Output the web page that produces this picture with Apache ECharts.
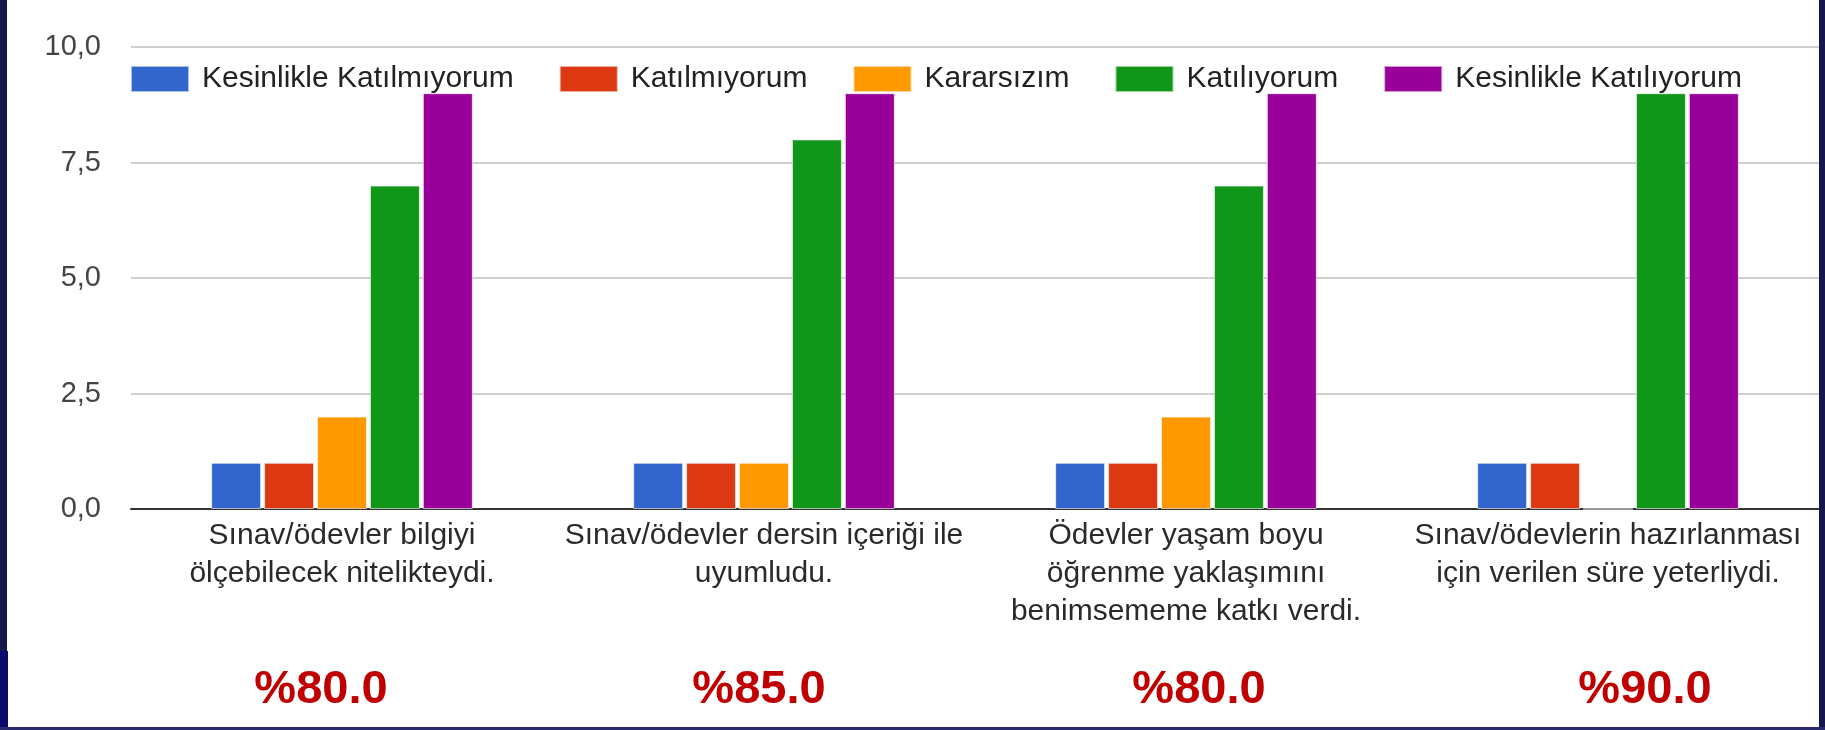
<!DOCTYPE html>
<html>
<head>
<meta charset="utf-8">
<script src="https://cdn.jsdelivr.net/npm/echarts@6/dist/echarts.min.js"></script>
<style>
  html, body { margin: 0; padding: 0; background: #fff; }
  #chart { width: 1825px; height: 730px; }
</style>
</head>
<body>
<div id="chart"></div>
<script>
// survey answers per question
var categories = [
    'Sınav/ödevler bilgiyi\nölçebilecek nitelikteydi.',
    'Sınav/ödevler dersin içeriği ile\nuyumludu.',
    'Ödevler yaşam boyu\nöğrenme yaklaşımını\nbenimsememe katkı verdi.',
    'Sınav/ödevlerin hazırlanması\niçin verilen süre yeterliydi.'
];
var seriesNames = ['Kesinlikle Katılmıyorum', 'Katılmıyorum', 'Kararsızım', 'Katılıyorum', 'Kesinlikle Katılıyorum'];
var kesinlikleKatilmiyorum = [1, 1, 1, 1];
var katilmiyorum = [1, 1, 1, 1];
var kararsizim = [2, 1, 2, 0];
var katiliyorum = [7, 8, 7, 9];
var kesinlikleKatiliyorum = [9, 9, 9, 9];
var percentages = ['%80.0', '%85.0', '%80.0', '%90.0'];
var yTicks = [0, 2.5, 5, 7.5, 10];

var colors = ['#3366cc', '#dc3912', '#ff9900', '#109618', '#990099'];
var pctShift = [-21, -5, 13, 37];   // horizontal nudge of the red labels
var font = "'Liberation Sans', Arial, sans-serif";

var values = [kesinlikleKatilmiyorum, katilmiyorum, kararsizim, katiliyorum, kesinlikleKatiliyorum];

var pctData = percentages.map(function (p, i) {
    var d = pctShift[i];
    return {
        value: p,
        textStyle: { padding: d >= 0 ? [0, 0, 0, 2 * d] : [0, -2 * d, 0, 0] }
    };
});

var chart = echarts.init(document.getElementById('chart'));
chart.setOption({
    animation: false,
    color: colors,
    textStyle: { fontFamily: font },
    legend: {
        left: 130,
        top: 64,
        padding: 0,
        itemWidth: 58,
        itemHeight: 26,
        itemGap: 45,
        icon: 'rect',
        textStyle: { fontSize: 30, color: '#222', fontFamily: font, padding: [0, 0, 0, 8] },
        data: seriesNames
    },
    grid: { left: 131, right: 6, top: 47, bottom: 221 },
    xAxis: [
        {
            type: 'category',
            data: categories,
            axisLine: { lineStyle: { color: '#333', width: 2 } },
            axisTick: { show: false },
            axisLabel: {
                interval: 0,
                fontSize: 30,
                lineHeight: 38,
                color: '#2a2a2a',
                margin: 8,
                fontFamily: font
            }
        },
        {
            type: 'category',
            position: 'bottom',
            offset: 158,
            data: pctData,
            axisLine: { show: false },
            axisTick: { show: false },
            axisLabel: {
                interval: 0,
                margin: 0,
                verticalAlign: 'middle',
                fontSize: 47,
                fontWeight: 'bold',
                color: '#c00000',
                fontFamily: font
            }
        }
    ],
    yAxis: {
        type: 'value',
        min: yTicks[0],
        max: yTicks[yTicks.length - 1],
        interval: yTicks[1] - yTicks[0],
        axisLine: { show: false },
        axisTick: { show: false },
        splitLine: { lineStyle: { color: '#d0d0d0', width: 2 } },
        axisLabel: {
            fontSize: 29,
            color: '#444',
            margin: 30,
            fontFamily: font,
            formatter: function (v) { return v.toFixed(1).replace('.', ','); }
        }
    },
    series: seriesNames.map(function (name, i) {
        return {
            name: name,
            type: 'bar',
            barGap: '6%',
            barCategoryGap: '38%',
            itemStyle: { borderColor: 'rgba(255,255,255,0.6)', borderWidth: 1 },
            data: values[i]
        };
    }),
    graphic: [
        { type: 'rect', left: 0, top: 0, shape: { width: 7, height: 730 }, style: { fill: '#17174b' } },
        { type: 'rect', left: 0, top: 651, shape: { width: 8, height: 79 }, style: { fill: '#0b0b6e' } },
        { type: 'rect', left: 1819, top: 0, shape: { width: 6, height: 730 }, style: { fill: '#17174b' } },
        { type: 'rect', left: 0, top: 727, shape: { width: 1825, height: 3 }, style: { fill: '#2a2a6e' } }
    ]
});
</script>
</body>
</html>
